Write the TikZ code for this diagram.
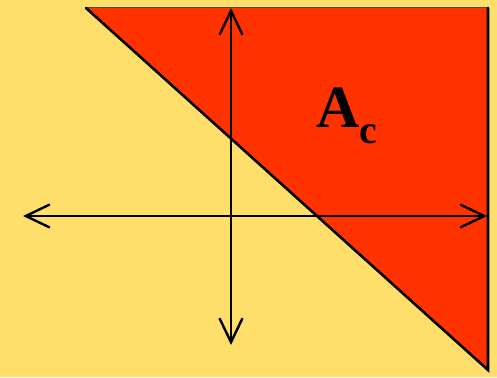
\documentclass[tikz,border=0pt]{standalone}
\usepackage{fontspec}
\setmainfont{Liberation Serif}
\usetikzlibrary{arrows.meta}
\definecolor{bgyellow}{RGB}{255,223,107}
\definecolor{regred}{RGB}{255,51,0}
\begin{document}
\begin{tikzpicture}[x=1pt, y=-1pt,
  %% Complement region (upper-right triangle)
  region/.style={fill=regred, draw=none},
  %% Thick black edges of the region
  edge/.style={line width=2.6pt, line cap=round},
  %% Double-headed axis arrows
  axis/.style={{Straight Barb[length=24pt,width=23pt,line width=2.4pt]}-{Straight Barb[length=24pt,width=23pt,line width=2.4pt]}, line width=2.4pt},
  %% Region label: letter and its subscript
  lbl/.style={font=\fontsize{60}{66}\selectfont\bfseries, inner sep=0pt, anchor=base west},
  sublbl/.style={font=\fontsize{40}{44}\selectfont\bfseries, inner sep=0pt, anchor=base west}
]
%% ── Background, fixes the picture's size ─────────────────────────────────
\fill[bgyellow] (0,0) rectangle (497,377);
\useasboundingbox (0,0) rectangle (497,377);

%% ── Corners of the region ────────────────────────────────────────────────
\coordinate (tl) at (86,8);
\coordinate (tr) at (488,8);
\coordinate (br) at (488,370);

\fill[region] (tl) -- (tr) -- (br) -- cycle;
\draw[line width=1pt, black!70] (tl) -- (tr);
\draw[edge] (tr) -- (br) -- (tl);

%% ── Axes ─────────────────────────────────────────────────────────────────
\coordinate (ytop) at (231,8);
\coordinate (ybot) at (231,345);
\coordinate (xleft)  at (23,216);
\coordinate (xright) at (487,216);
\draw[axis] (ybot) -- (ytop);
\draw[axis] (xleft) -- (xright);

%% ── Label ────────────────────────────────────────────────────────────────
\node[lbl] (a) at (316,127) {A};
\node[sublbl] (c) at (359,143) {c};

\end{tikzpicture}
\end{document}
